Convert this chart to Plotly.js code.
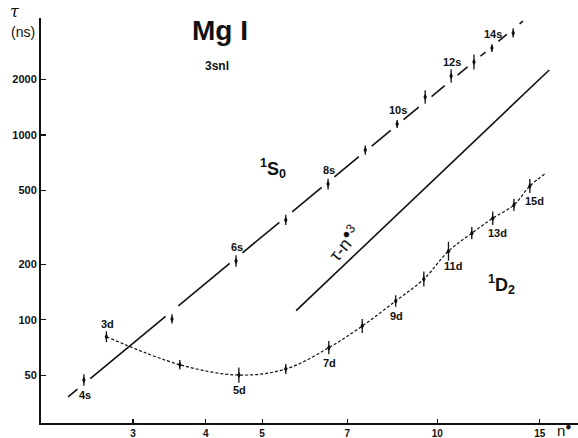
<!DOCTYPE html>
<html>
<head>
<meta charset="utf-8">
<script src="https://cdn.plot.ly/plotly-3.0.1.min.js"></script>
<style>html,body{margin:0;padding:0;background:#fff;}#chart{width:578px;height:438px;}</style>
</head>
<body>
<div id="chart"></div>
<script>
// ---- data ----
// 1S0 series (3sns)
const sN   = [2.47, 3.50, 4.51, 5.49, 6.49, 7.52, 8.53, 9.53, 10.56, 11.56, 12.41, 13.5];
const sTau = [47.2, 101, 208, 347, 542, 828, 1146, 1603, 2083, 2481, 2951, 3565];
const sErrPct = [7.5, 6, 7.5, 6.5, 7, 6, 5, 8.7, 8.7, 9.8, 5, 6];
const sLabels = ['4s', '', '6s', '', '8s', '', '10s', '', '12s', '', '14s', ''];
// straight fit line through 1S0
const sFitN   = [2.32, 14.03];
const sFitTau = [38.2, 4130];

// 1D2 series (3snd)
const dN   = [2.70, 3.61, 4.56, 5.49, 6.51, 7.43, 8.48, 9.48, 10.45, 11.46, 12.45, 13.54, 14.42];
const dTau = [80.9, 57.1, 50.2, 54.1, 70.6, 92.5, 126.3, 166, 235, 294, 354, 418, 529];
const dErrPct = [7, 6, 10, 6.5, 8.7, 9, 7.5, 9.8, 12.5, 8, 8.7, 8, 9];
const dLabels = ['3d', '', '5d', '', '7d', '', '9d', '', '11d', '', '13d', '', '15d'];
// dashed curve end beyond last point
const dCurveEndN = 15.37;
const dCurveEndTau = 622;

// tau ~ n*^3 reference line
const n3N   = [5.72, 15.57];
const n3Tau = [112, 2246];

// axis ticks
const xTicks = [3, 4, 5, 7, 10, 15];
const yTicks = [50, 100, 200, 500, 1000, 2000];

// ---- helpers ----
const L = Math.log10;
function errs(vals, pct) {
  const up = [], dn = [];
  vals.forEach((v, i) => {
    const d = L(1 + pct[i] / 100);
    up.push(v * (Math.pow(10, d) - 1));
    dn.push(v * (1 - Math.pow(10, -d)));
  });
  return {up, dn};
}
// S fit line with small gaps around each marker
function gappedLine(xs, ys, marks, gap) {
  const lx0 = L(xs[0]), lx1 = L(xs[1]), ly0 = L(ys[0]), ly1 = L(ys[1]);
  const f = lx => Math.pow(10, ly0 + (ly1 - ly0) * (lx - lx0) / (lx1 - lx0));
  const X = [xs[0]], Y = [ys[0]];
  marks.map(L).sort((a, b) => a - b).forEach(m => {
    const a = m - gap, b = m + gap;
    X.push(Math.pow(10, a)); Y.push(f(a));
    X.push(null); Y.push(null);
    X.push(Math.pow(10, b)); Y.push(f(b));
  });
  X.push(xs[1]); Y.push(ys[1]);
  return {X, Y};
}

const sE = errs(sTau, sErrPct);
const dE = errs(dTau, dErrPct);
const sLine = gappedLine(sFitN, sFitTau, sN, 0.011);

const black = '#111';
const traces = [
  { x: sLine.X, y: sLine.Y, mode: 'lines', connectgaps: false,
    line: {color: black, width: 1.6}, hoverinfo: 'skip' },
  { x: n3N, y: n3Tau, mode: 'lines', line: {color: black, width: 1.6}, hoverinfo: 'skip' },
  { x: dN.concat([dCurveEndN]), y: dTau.concat([dCurveEndTau]), mode: 'lines',
    line: {color: black, width: 1.2, dash: '3px,2px', shape: 'spline', smoothing: 1.0}, hoverinfo: 'skip' },
  { x: sN, y: sTau, mode: 'markers',
    marker: {symbol: 'diamond-tall', size: 5, color: black},
    error_y: {type: 'data', symmetric: false, array: sE.up, arrayminus: sE.dn,
              width: 0, thickness: 1.3, color: black} },
  { x: dN, y: dTau, mode: 'markers',
    marker: {symbol: 'diamond-tall', size: 5, color: black},
    error_y: {type: 'data', symmetric: false, array: dE.up, arrayminus: dE.dn,
              width: 0, thickness: 1.3, color: black} }
];

const fam = 'Liberation Sans, Arial, sans-serif';
const lblFont = {family: fam, size: 11, color: black, weight: 'bold'};
const annotations = [];
sN.forEach((n, i) => {
  if (!sLabels[i]) return;
  const below = i === 0;
  annotations.push({x: L(n), y: L(sTau[i]), xref: 'x', yref: 'y', text: sLabels[i],
    showarrow: false, font: lblFont, yshift: below ? -15 : 14, xshift: 1});
});
dN.forEach((n, i) => {
  if (!dLabels[i]) return;
  const above = i === 0;
  annotations.push({x: L(n), y: L(dTau[i]), xref: 'x', yref: 'y', text: dLabels[i],
    showarrow: false, font: lblFont, yshift: above ? 13 : -15, xshift: i >= 8 ? 5 : 1});
});
const P = (px, py) => ({x: (px - 41) / 537, y: (423 - py) / 405});
function addText(px, py, text, font, extra) {
  const p = P(px, py);
  annotations.push(Object.assign({xref: 'paper', yref: 'paper', x: p.x, y: p.y, text: text,
    showarrow: false, font: font, xanchor: 'center', yanchor: 'middle'}, extra || {}));
}
addText(220, 30, 'Mg I', {family: fam, size: 28, color: black, weight: 'bold'});
addText(217, 66, '3snl', {family: fam, size: 12, color: black, weight: 'bold'});
addText(15, 12, 'τ', {family: 'DejaVu Serif, serif', size: 16, color: black, style: 'italic'});
addText(23, 32, '(ns)', {family: fam, size: 14, color: black});
addText(273, 168, '<sup>1</sup>S<sub>0</sub>', {family: fam, size: 18, color: black, weight: 'bold'});
addText(501, 284, '<sup>1</sup>D<sub>2</sub>', {family: fam, size: 18, color: black, weight: 'bold'});
addText(344, 243, 'τ-n<sup>●3</sup>', {family: fam, size: 18, color: black}, {textangle: -50});
addText(564, 429, 'n<sup>●</sup>', {family: fam, size: 15, color: black});

const layout = {
  width: 578, height: 438,
  margin: {l: 41, r: 0, t: 18, b: 15, pad: 0},
  paper_bgcolor: '#fff', plot_bgcolor: '#fff',
  showlegend: false,
  xaxis: {type: 'log', range: [0.3190, 1.2417], tickvals: xTicks, ticktext: xTicks.map(String),
    ticks: 'inside', ticklen: 4, tickwidth: 1.2, tickcolor: black,
    showline: true, linecolor: black, linewidth: 2, showgrid: false, zeroline: false,
    tickfont: {family: fam, size: 10, color: black, weight: 'bold'}},
  yaxis: {type: 'log', range: [1.4412, 3.6327], tickvals: yTicks, ticktext: yTicks.map(String),
    ticks: 'inside', ticklen: 5, tickwidth: 1.2, tickcolor: black,
    showline: true, linecolor: black, linewidth: 2, showgrid: false, zeroline: false,
    tickfont: {family: fam, size: 11, color: black, weight: 'bold'}},
  annotations: annotations
};
Plotly.newPlot('chart', traces, layout, {displayModeBar: false, staticPlot: true});
</script>
</body>
</html>
